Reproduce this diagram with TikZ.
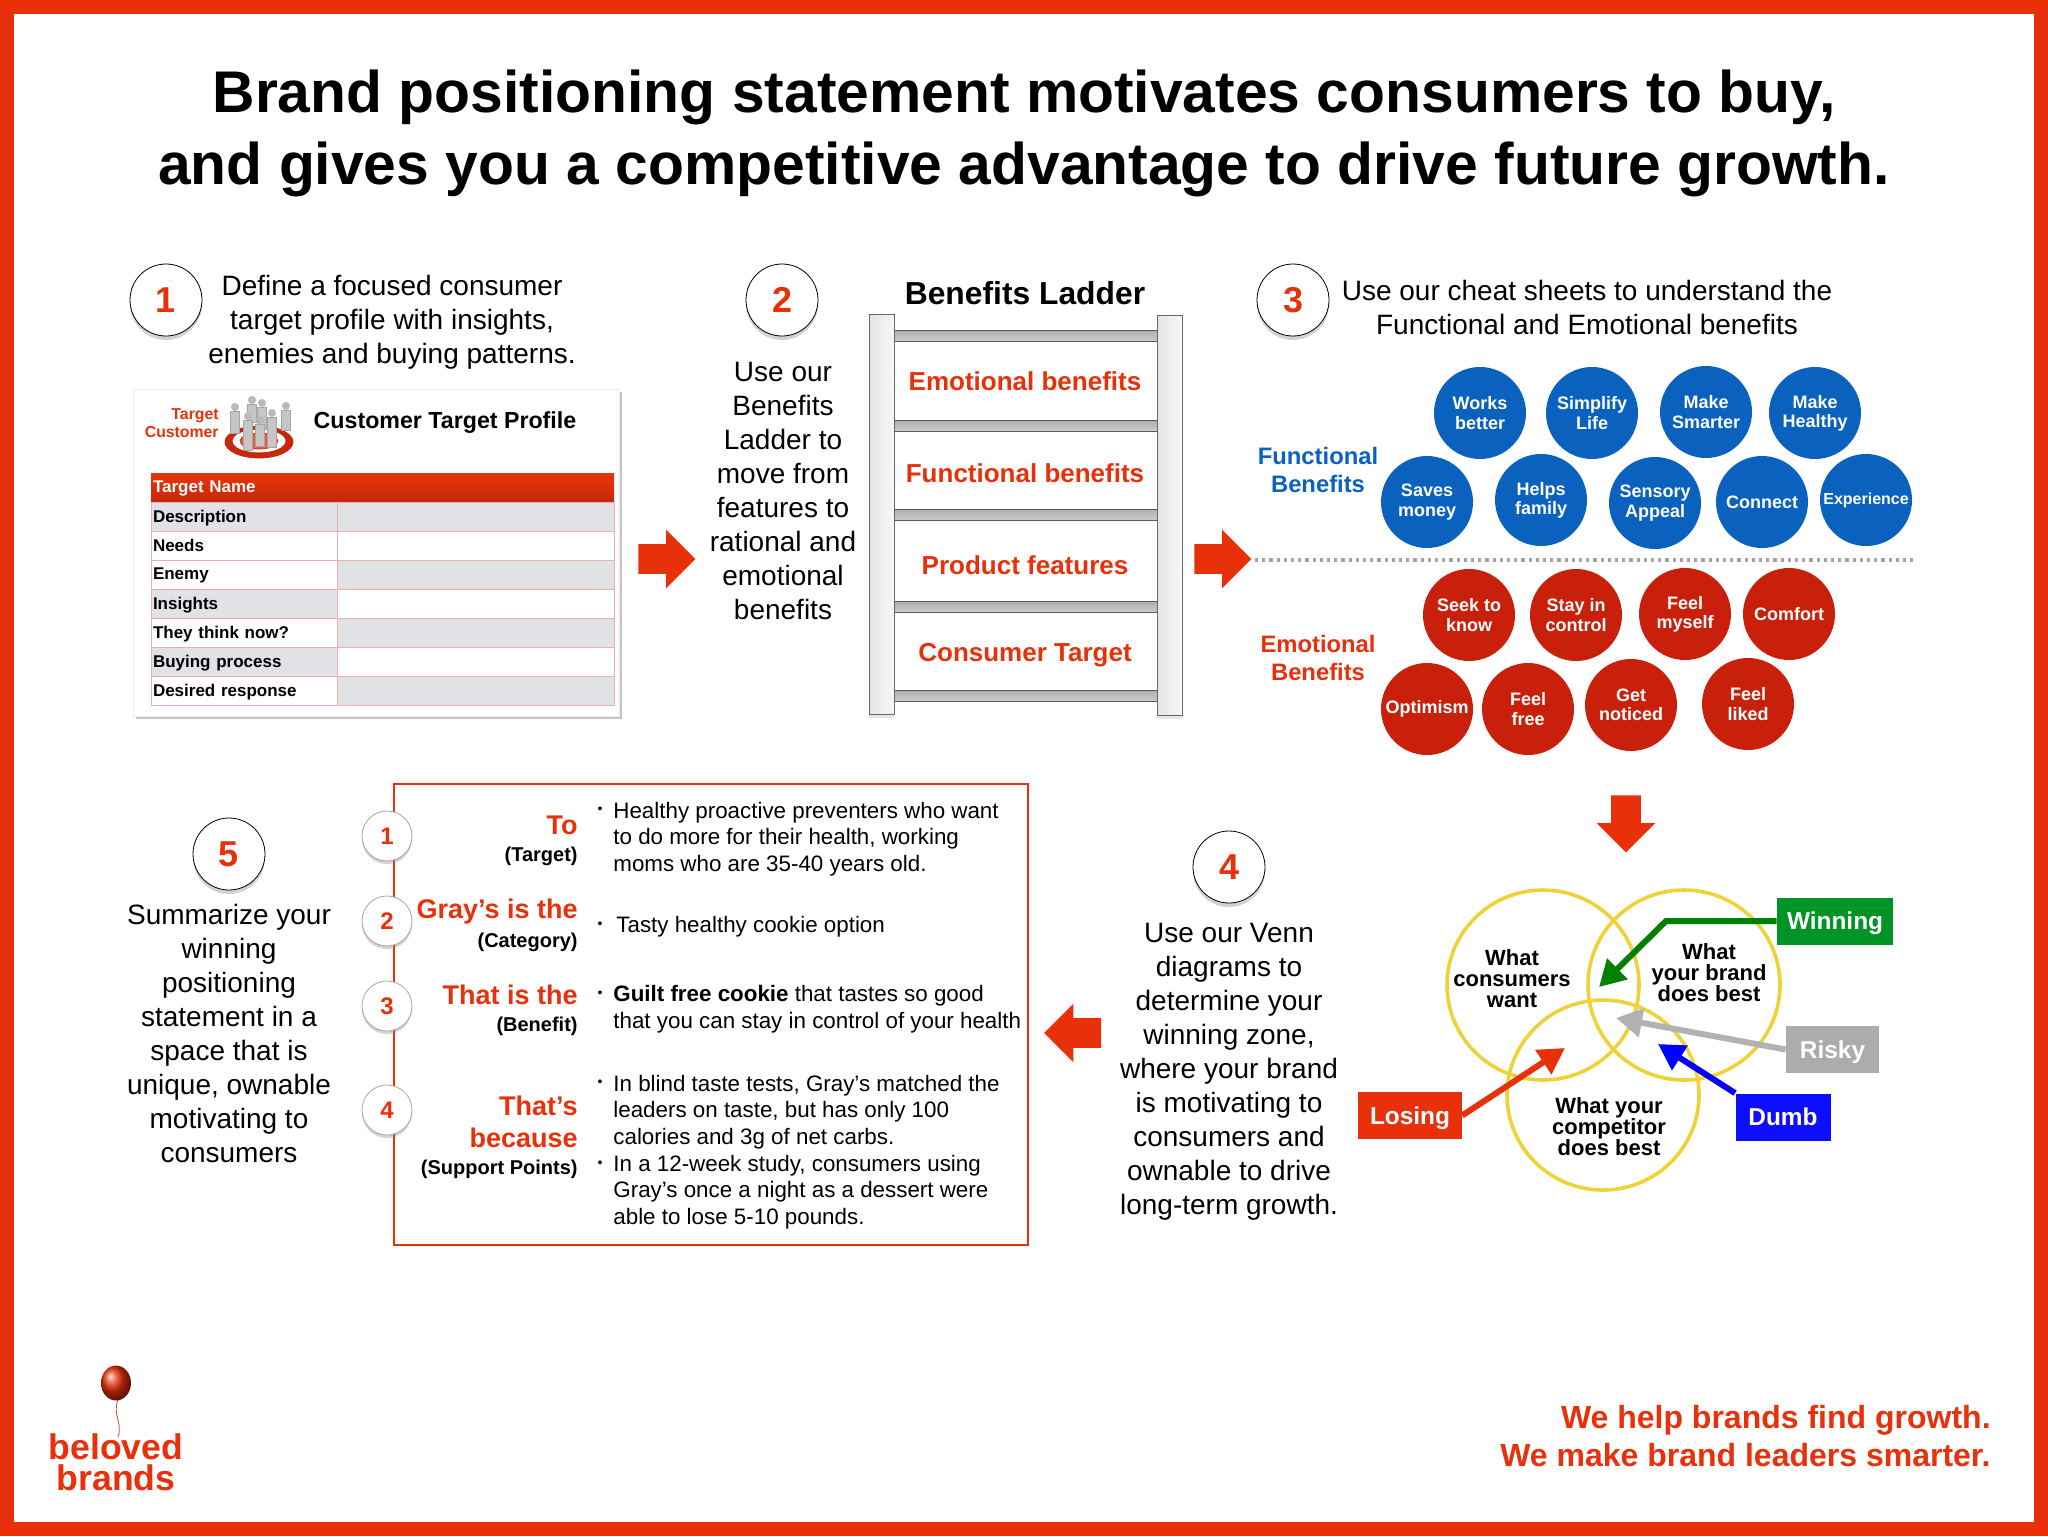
\documentclass[tikz,border=0pt]{standalone}
\usepackage{fontspec}
\setmainfont{Liberation Sans}
\usetikzlibrary{positioning, shapes.geometric, shapes.arrows, shadows, arrows.meta}
\definecolor{brandred}{HTML}{E8300A}
\definecolor{bubbleblue}{HTML}{0A62BE}
\definecolor{bubblered}{HTML}{C8200A}
\definecolor{vennyellow}{HTML}{F0D238}
\definecolor{cellgray}{HTML}{E0E2E6}
\definecolor{celledge}{HTML}{EDB0A8}
\newcommand{\fs}[2]{\fontsize{#1}{#2}\selectfont}
\newcommand{\targetperson}[3]{%
	\fill[gray!55] (#1,#2) circle (4);
	\fill[gray!45, draw=gray!70, very thin] (#1-4.5,#2+4) rectangle (#1+4.5,#2+#3);}
\tikzset{
	headline/.style={font=\bfseries\fs{29.4}{36}, align=center, inner sep=0},
	bodytext/.style={font=\fs{14}{17}, align=center, inner sep=0},
	stepcircle/.style={circle, draw=black, fill=white, minimum size=36pt, inner sep=0, text=brandred, font=\bfseries\fs{18}{20}, drop shadow={opacity=.35, shadow xshift=0pt, shadow yshift=-2pt}},
	smallcircle/.style={circle, draw=gray!70, fill=white, minimum size=25pt, inner sep=0, text=brandred, font=\bfseries\fs{12}{14}, drop shadow={opacity=.35, shadow xshift=0pt, shadow yshift=-1.5pt}},
	bigarrow/.style={single arrow, fill=brandred, inner xsep=0pt, inner ysep=7.25pt, minimum height=28.5pt, single arrow head extend=7.25pt},
	ladderrail/.style={rectangle, draw=gray!80!black, left color=gray!22, right color=gray!6, minimum width=12.5pt, minimum height=200pt, drop shadow={opacity=.2, shadow xshift=0pt, shadow yshift=-2pt}},
	ladderrung/.style={rectangle, draw=gray!70!black, top color=gray!65, bottom color=gray!40, minimum width=131.5pt, minimum height=5.5pt, inner sep=0},
	ladderlabel/.style={font=\bfseries\fs{13}{16}, text=brandred, inner sep=0},
	bubble/.style={circle, minimum size=46pt, inner sep=0, text=white, align=center, font=\bfseries\fs{9}{9.6}},
	funcbubble/.style={bubble, fill=bubbleblue},
	emobubble/.style={bubble, fill=bubblered},
	grouplabel/.style={font=\bfseries\fs{11.9}{14}, align=center, inner sep=0},
	cell/.style={rectangle, draw=celledge, line width=.5pt, minimum height=14.5pt, inner sep=0},
	leftcell/.style={cell, minimum width=93pt, text width=91pt, align=left, font=\bfseries\fs{8.5}{10}, text depth=.5pt},
	rightcell/.style={cell, minimum width=138.5pt},
	graycell/.style={fill=cellgray},
	whitecell/.style={fill=white},
	vennring/.style={ellipse, draw=vennyellow, line width=1.8pt, minimum width=96pt, minimum height=95pt, inner sep=0},
	vennlabel/.style={font=\bfseries\fs{11}{10.5}, align=center, inner sep=0},
	zonebox/.style={rectangle, text=white, font=\bfseries\fs{12.2}{14}, inner sep=0, minimum height=23.5pt, text height=8.8pt, text depth=0pt},
	zonearrow/.style={line width=3pt, -{Triangle[length=13pt, width=14pt]}},
	summaryhead/.style={font=\bfseries\fs{13.5}{16}, text=brandred, align=right, inner sep=0, anchor=east},
	summarysub/.style={font=\bfseries\fs{10}{11}, inner sep=0, anchor=east},
	summarytext/.style={font=\fs{11.18}{13.3}, align=left, inner sep=0, anchor=west},
	summarybullet/.style={font=\fs{7}{8}, inner sep=0}
}
\begin{document}
\begin{tikzpicture}[x=.5pt, y=-.5pt, node distance=14.5pt, on grid]
	\useasboundingbox (0,0) rectangle (2048,1536);
	\fill[brandred] (0,0) rectangle (2048,1536);
	\fill[white] (14,14) rectangle (2034,1522);

	\node [headline] (title) at (1024,133.5) {Brand positioning statement motivates consumers to buy,\\and gives you a competitive advantage to drive future growth.};

	\node [stepcircle] (step_1) at (166,300) {1};
	\node [bodytext] (text_1) at (392,322.5) {Define a focused consumer\\target profile with insights,\\enemies and buying patterns.};
	\node [stepcircle] (step_2) at (782,300) {2};
	\node [bodytext] (text_2) at (783,491) {Use our\\Benefits\\Ladder to\\move from\\features to\\rational and\\emotional\\benefits};
	\node [stepcircle] (step_3) at (1293,300) {3};
	\node [bodytext] (text_3) at (1587,307) {Use our cheat sheets to understand the\\Functional and Emotional benefits};
	\node [stepcircle] (step_4) at (1229,867) {4};
	\node [bodytext] (text_4) at (1229,1072) {Use our Venn\\diagrams to\\determine your\\winning zone,\\where your brand\\is motivating to\\consumers and\\ownable to drive\\long-term growth.};
	\node [stepcircle] (step_5) at (229,854) {5};
	\node [bodytext] (text_5) at (229,1033) {Summarize your\\winning\\positioning\\statement in a\\space that is\\unique, ownable\\motivating to\\consumers};

	\node [rectangle, fill=white, draw=gray!15, minimum width=243pt, minimum height=163.5pt, drop shadow={opacity=.45, shadow xshift=1.5pt, shadow yshift=-1.5pt}] (card) at (376,552.5) {};
	\node [font=\bfseries\fs{7.9}{9}, text=brandred, align=right, inner sep=0, anchor=east] (card_side) at (219,423) {Target\\Customer};
	\draw[brandred!85!black, fill=brandred!85!black] (259,442) ellipse (34 and 16);
	\draw[white, fill=white] (259,441) ellipse (26 and 11);
	\draw[brandred, fill=brandred!80] (259,441) ellipse (19 and 8);
	\targetperson{235}{407}{26}
	\targetperson{252}{400}{22}
	\targetperson{262}{403}{26}
	\targetperson{286}{406}{24}
	\targetperson{272}{413}{34}
	\targetperson{248}{416}{34}
	\targetperson{260}{420}{26}
	\node [font=\bfseries\fs{11.6}{14}, inner sep=0] (card_title) at (445,423) {Customer Target Profile};

	\node [leftcell, top color=brandred!95!orange, bottom color=brandred!85!black, draw=none, text=white] (row_name) at (244,487.5) {Target Name};
	\node [leftcell, graycell] [below =of row_name] (row_desc) {Description};
	\node [leftcell, whitecell] [below =of row_desc] (row_needs) {Needs};
	\node [leftcell, whitecell] [below =of row_needs] (row_enemy) {Enemy};
	\node [leftcell, graycell] [below =of row_enemy] (row_insights) {Insights};
	\node [leftcell, whitecell] [below =of row_insights] (row_think) {They think now?};
	\node [leftcell, graycell] [below =of row_think] (row_buying) {Buying process};
	\node [leftcell, whitecell] [below =of row_buying] (row_response) {Desired response};
	\node [rightcell, top color=brandred!95!orange, bottom color=brandred!85!black, draw=none] [right =115.75pt of row_name] (val_name) {};
	\node [rightcell, graycell] [below =of val_name] (val_desc) {};
	\node [rightcell, whitecell] [below =of val_desc] (val_needs) {};
	\node [rightcell, graycell] [below =of val_needs] (val_enemy) {};
	\node [rightcell, whitecell] [below =of val_enemy] (val_insights) {};
	\node [rightcell, graycell] [below =of val_insights] (val_think) {};
	\node [rightcell, whitecell] [below =of val_think] (val_buying) {};
	\node [rightcell, graycell] [below =of val_buying] (val_response) {};

	\node [bigarrow] (arrow_1) at (659.5,559) {};
	\node [bigarrow] (arrow_2) at (1215.5,559) {};
	\node [bigarrow, rotate=270] (arrow_3) at (1626,816.5) {};
	\node [bigarrow, shape border rotate=180] (arrow_4) at (1080,1033) {};

	\node [font=\bfseries\fs{15.9}{18}, inner sep=0] (ladder_title) at (1025,293) {Benefits Ladder};
	\node [ladderrung] (rung_1) at (1025.5,335.5) {};
	\node [ladderrung] (rung_2) at (1025.5,425.5) {};
	\node [ladderrung] (rung_3) at (1025.5,514.5) {};
	\node [ladderrung] (rung_4) at (1025.5,606.5) {};
	\node [ladderrung] (rung_5) at (1025.5,695.5) {};
	\node [ladderrail] (rail_l) at (881.5,514) {};
	\node [ladderrail] (rail_r) at (1169.5,515) {};
	\node [ladderlabel] (lad_1) at (1025,381) {Emotional benefits};
	\node [ladderlabel] (lad_2) at (1025,473) {Functional benefits};
	\node [ladderlabel] (lad_3) at (1025,565) {Product features};
	\node [ladderlabel] (lad_4) at (1025,655) {Consumer Target};

	\node [grouplabel, text=bubbleblue] (func_label) at (1318,470) {Functional\\Benefits};
	\node [funcbubble] (f_1) at (1480,413) {Works\\better};
	\node [funcbubble] (f_2) at (1592,413) {Simplify\\Life};
	\node [funcbubble] (f_3) at (1706,412) {Make\\Smarter};
	\node [funcbubble] (f_4) at (1815,413) {Make\\Healthy};
	\node [funcbubble] (f_5) at (1427,502) {Saves\\money};
	\node [funcbubble] (f_6) at (1541,500) {Helps\\family};
	\node [funcbubble] (f_7) at (1655,503) {Sensory\\Appeal};
	\node [funcbubble] (f_8) at (1762,502) {Connect};
	\node [funcbubble, font=\bfseries\fs{8}{9.6}] (f_9) at (1866,500) {Experience};

	\coordinate (dots_l) at (1255,560);
	\coordinate (dots_r) at (1916,560);
	\draw[gray!70, line width=1.6pt, dotted] (dots_l) -- (dots_r);

	\node [grouplabel, text=brandred] (emo_label) at (1318,658) {Emotional\\Benefits};
	\node [emobubble] (e_1) at (1469,615) {Seek to\\know};
	\node [emobubble] (e_2) at (1576,615) {Stay in\\control};
	\node [emobubble] (e_3) at (1685,614) {Feel\\myself};
	\node [emobubble] (e_4) at (1789,614) {Comfort};
	\node [emobubble] (e_5) at (1427,709) {Optimism};
	\node [emobubble] (e_6) at (1528,709) {Feel\\free};
	\node [emobubble] (e_7) at (1631,705) {Get\\noticed};
	\node [emobubble] (e_8) at (1748,704) {Feel\\liked};

	\node [vennring] (venn_a) at (1543,985) {};
	\node [vennring] (venn_b) at (1684,985) {};
	\node [vennring] (venn_c) at (1603,1095) {};
	\node [vennlabel] (venn_ta) at (1512,979) {What\\consumers\\want};
	\node [vennlabel] (venn_tb) at (1709,973) {What\\your brand\\does best};
	\node [vennlabel] (venn_tc) at (1609,1127) {What your\\competitor\\does best};

	\coordinate (bend_win) at (1666,921);
	\coordinate (tip_win) at (1599,987);
	\coordinate (tip_risky) at (1616,1018);
	\coordinate (tip_dumb) at (1658,1044);
	\coordinate (tip_lose) at (1565,1048);
	\node [zonebox, fill=green!50!black!85!cyan, minimum width=58pt] (winning) at (1835,921) {Winning};
	\node [zonebox, fill=gray!65, minimum width=46.5pt] (risky) at (1832.5,1049.5) {Risky};
	\node [zonebox, fill=blue!95!white, minimum width=47.5pt] (dumb) at (1783,1117) {Dumb};
	\node [zonebox, fill=brandred, minimum width=51.75pt] (losing) at (1410,1115.5) {Losing};
	\draw[zonearrow, green!50!black] (winning.west) -- (bend_win) -- (tip_win);
	\draw[zonearrow, gray!60] (risky.west) -- (tip_risky);
	\draw[zonearrow, blue] (dumb.north west) -- (tip_dumb);
	\draw[zonearrow, brandred] (losing.east) -- (tip_lose);

	\node [rectangle, draw=brandred, line width=1pt, minimum width=317pt, minimum height=230.5pt] (summary) at (711,1014.5) {};
	\node [smallcircle] (sum_1) at (387,836) {1};
	\node [smallcircle] (sum_2) at (387,921) {2};
	\node [smallcircle] (sum_3) at (387,1006) {3};
	\node [smallcircle] (sum_4) at (387,1110) {4};

	\node [summaryhead] (to_h) at (578,825) {To};
	\node [summarysub] (to_s) at (578,856) {(Target)};
	\node [summaryhead] (cat_h) at (578,912) {Gray’s is the};
	\node [summarysub] (cat_s) at (578,942) {(Category)};
	\node [summaryhead] (ben_h) at (578,995) {That is the};
	\node [summarysub] (ben_s) at (578,1026) {(Benefit)};
	\node [summaryhead] (sup_h) at (578,1122) {That’s\\because};
	\node [summarysub] (sup_s) at (578,1169) {(Support Points)};

	\node [summarybullet] (bul_1) at (600,810) {•};
	\node [summarytext] (sum_t1) at (613,839) {Healthy proactive preventers who want\\to do more for their health, working\\moms who are 35-40 years old.};
	\node [summarybullet] (bul_2) at (600,925) {•};
	\node [summarytext] (sum_t2) at (616,927) {Tasty healthy cookie option};
	\node [summarybullet] (bul_3) at (600,994) {•};
	\node [summarytext] (sum_t3) at (613,1009) {\textbf{Guilt free cookie} that tastes so good\\that you can stay in control of your health};
	\node [summarybullet] (bul_4) at (600,1083) {•};
	\node [summarybullet] (bul_5) at (600,1164) {•};
	\node [summarytext] (sum_t4) at (613,1152) {In blind taste tests, Gray’s matched the\\leaders on taste, but has only 100\\calories and 3g of net carbs.\\In a 12-week study, consumers using\\Gray’s once a night as a dessert were\\able to lose 5-10 pounds.};

	\node [font=\bfseries\fs{16}{19}, text=brandred, align=right, inner sep=0, anchor=east] (slogan) at (1991,1436) {We help brands find growth.\\We make brand leaders smarter.};

	\coordinate (string_top) at (118,1400);
	\coordinate (string_end) at (118,1437);
	\draw[brandred!60!gray, thin] (string_top) .. controls (112,1415) and (123,1422) .. (string_end);
	\node [ellipse, shading=ball, ball color=brandred, minimum width=15pt, minimum height=17.5pt, inner sep=0] (balloon) at (116,1383) {};
	\node [font=\bfseries\fs{17.8}{15.7}, text=brandred, align=center, inner sep=0] (logo) at (116,1462) {beloved\\brands};
\end{tikzpicture}
\end{document}
